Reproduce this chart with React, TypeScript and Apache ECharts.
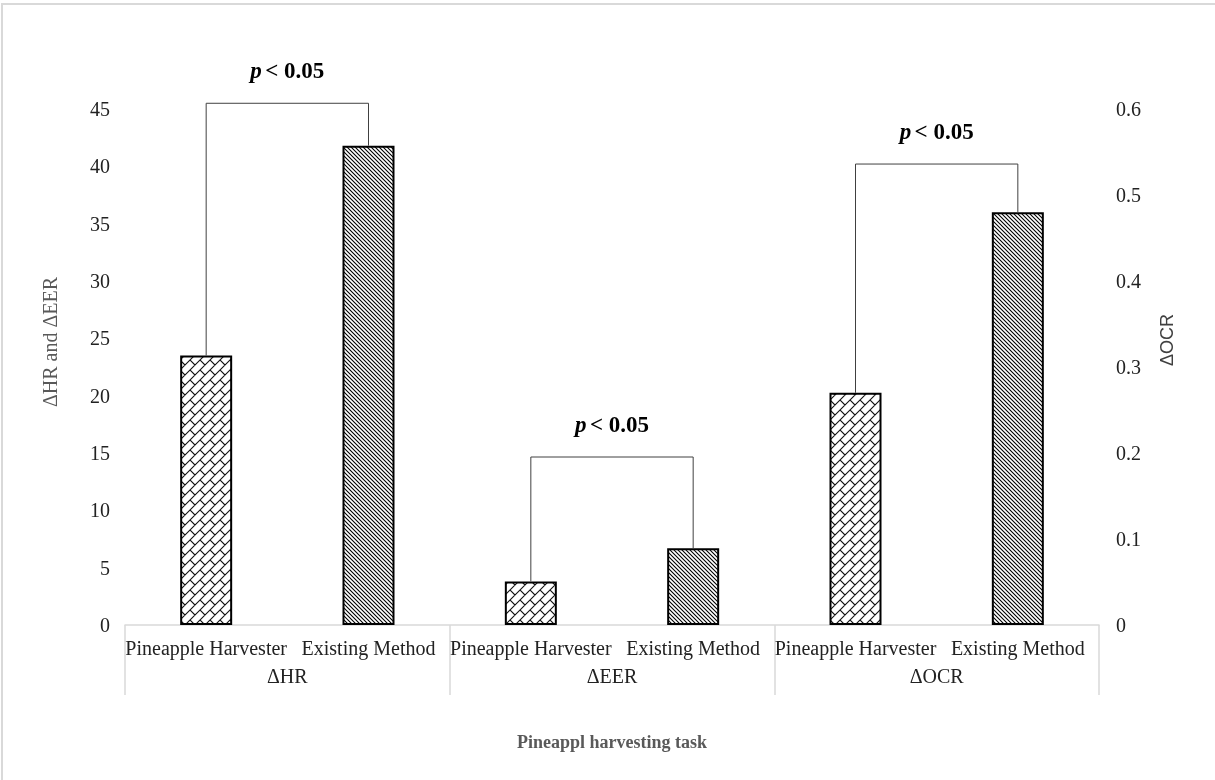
import React, { useEffect, useRef } from "react";
import * as echarts from "echarts";

const categories = [
  "Pineapple Harvester",
  "Existing Method",
  "Pineapple Harvester",
  "Existing Method",
  "Pineapple Harvester",
  "Existing Method",
];
const groups = ["ΔHR", "ΔEER", "ΔOCR"];
// ΔHR and ΔEER (left axis)
const hrEerValues = [23.5, 41.8, 3.8, 6.7];
// ΔOCR (right axis)
const ocrValues = [0.27, 0.48];
// bracket heights
const leftBrackets = [
  { from: 0, to: 1, level: 45.5 },
  { from: 2, to: 3, level: 14.65 },
];
const rightBrackets = [{ from: 4, to: 5, level: 0.536 }];
const pLabel = "< 0.05";

const FONT = '"Liberation Serif", "Times New Roman", serif';

const svgUrl = (s: string) => "data:image/svg+xml;charset=utf-8," + encodeURIComponent(s);

const diagPattern = svgUrl(
  "<svg xmlns='http://www.w3.org/2000/svg' width='4' height='4'><rect width='4' height='4' fill='white'/>" +
    "<path d='M-1,-1 L5,5 M-1,3 L1,5 M3,-1 L5,1' stroke='black' stroke-width='1.1'/></svg>"
);
const zigPattern = svgUrl(
  "<svg xmlns='http://www.w3.org/2000/svg' width='10' height='10'><rect width='10' height='10' fill='white'/>" +
    "<path d='M-1,11 L11,-1 M-1,1 L1,-1 M9,11 L11,9 M0,0 L5,5 M10,0 L10.5,0.5' stroke='#111' stroke-width='1.1' fill='none'/></svg>"
);

const patA = { image: zigPattern, repeat: "repeat" } as any;
const patB = { image: diagPattern, repeat: "repeat" } as any;

export default function App() {
  const ref = useRef<HTMLDivElement>(null);
  useEffect(() => {
    document.body.style.margin = "0";
    const chart = echarts.init(ref.current!, null, { renderer: "svg" });

    const leftData = categories.map((_, i) =>
      i < hrEerValues.length
        ? { value: hrEerValues[i], itemStyle: { color: i % 2 === 0 ? patA : patB } }
        : { value: null as any }
    );
    const rightData = categories.map((_, i) =>
      i >= hrEerValues.length
        ? {
            value: ocrValues[i - hrEerValues.length],
            itemStyle: { color: i % 2 === 0 ? patA : patB },
          }
        : { value: null as any }
    );

    const makeBracketSeries = (brackets: any[], vals: (number | null)[], yAxisIndex: number) => ({
      type: "custom",
      yAxisIndex,
      silent: true,
      clip: false,
      z: 5,
      data: brackets.map((b) => [b.from, b.to, b.level, vals[b.from], vals[b.to]]),
      renderItem: (params: any, api: any) => {
        const from = api.value(0);
        const to = api.value(1);
        const lvl = api.value(2);
        const a = api.coord([from, api.value(3)]);
        const t1 = api.coord([from, lvl]);
        const t2 = api.coord([to, lvl]);
        const b = api.coord([to, api.value(4)]);
        return {
          type: "group",
          children: [
            {
              type: "polyline",
              shape: { points: [a, t1, t2, b] },
              style: { stroke: "#404040", lineWidth: 1, fill: null },
            },
            {
              type: "text",
              x: (t1[0] + t2[0]) / 2,
              y: t1[1] - 33,
              style: {
                text: "{i|p} {b|" + pLabel + "}",
                align: "center",
                verticalAlign: "middle",
                rich: {
                  i: { fontFamily: FONT, fontSize: 23, fontWeight: "bold", fontStyle: "italic", fill: "#000" },
                  b: { fontFamily: FONT, fontSize: 23, fontWeight: "bold", fill: "#000" },
                },
              },
            },
          ],
        };
      },
    });

    const allVals: (number | null)[] = categories.map((_, i) =>
      i < hrEerValues.length ? hrEerValues[i] : ocrValues[i - hrEerValues.length]
    );

    chart.setOption({
      animation: false,
      textStyle: { fontFamily: FONT },
      graphic: [
        {
          type: "rect",
          shape: { x: 2, y: 4, width: 1240, height: 820 },
          style: { fill: null, stroke: "#d9d9d9", lineWidth: 2 },
          silent: true,
        },
      ],
      grid: { left: 125, right: 116, top: 109, bottom: 155 },
      xAxis: [
        {
          type: "category",
          data: categories,
          position: "bottom",
          axisLine: { show: true, lineStyle: { color: "#d9d9d9", width: 1.5 } },
          axisTick: { show: false },
          axisLabel: { interval: 0, margin: 13, fontSize: 20, color: "#222", fontFamily: FONT },
        },
        {
          type: "category",
          data: groups,
          position: "bottom",
          axisLine: { show: false },
          axisTick: { show: true, length: 70, interval: 0, lineStyle: { color: "#d9d9d9", width: 1.5 } },
          axisLabel: { interval: 0, margin: 41, fontSize: 20, color: "#222", fontFamily: FONT },
          name: "Pineappl harvesting task",
          nameLocation: "middle",
          nameGap: 108,
          nameTextStyle: { fontSize: 18, fontWeight: "bold", color: "#595959", fontFamily: FONT },
        },
      ],
      yAxis: [
        {
          type: "value",
          min: 0,
          max: 45,
          interval: 5,
          position: "left",
          axisLine: { show: false },
          axisTick: { show: false },
          splitLine: { show: false },
          axisLabel: { margin: 15, fontSize: 20, color: "#222", fontFamily: FONT },
          name: "ΔHR and ΔEER",
          nameLocation: "middle",
          nameGap: 65,
          nameTextStyle: { fontSize: 20, color: "#595959", fontFamily: FONT, padding: [0, 0, 0, 50] },
        },
        {
          type: "value",
          min: 0,
          max: 0.6,
          interval: 0.1,
          position: "right",
          axisLine: { show: false },
          axisTick: { show: false },
          splitLine: { show: false },
          axisLabel: { margin: 17, fontSize: 20, color: "#222", fontFamily: FONT },
          name: "ΔOCR",
          nameLocation: "middle",
          nameGap: 59,
          nameTextStyle: {
            fontSize: 18,
            color: "#404040",
            fontFamily: '"Liberation Sans", Arial, sans-serif',
            padding: [0, 0, 0, 54],
          },
        },
      ],
      series: [
        {
          type: "bar",
          yAxisIndex: 0,
          barWidth: 52,
          barGap: "-100%",
          data: leftData,
          itemStyle: { borderColor: "#000", borderWidth: 2 },
          silent: true,
        },
        {
          type: "bar",
          yAxisIndex: 1,
          barWidth: 52,
          barGap: "-100%",
          data: rightData,
          itemStyle: { borderColor: "#000", borderWidth: 2 },
          silent: true,
        },
        makeBracketSeries(leftBrackets, allVals, 0),
        makeBracketSeries(rightBrackets, allVals, 1),
      ],
    });
    return () => chart.dispose();
  }, []);
  return <div ref={ref} style={{ position: "fixed", left: 0, top: 0, width: 1215, height: 780 }} />;
}
